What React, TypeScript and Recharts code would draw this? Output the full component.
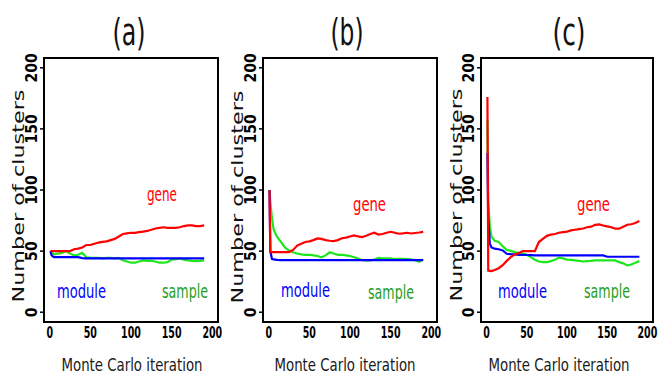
import { LineChart, Line, XAxis, YAxis, ReferenceArea, Customized } from 'recharts';

const iterations = [1, 2, 4, 6, 10, 15, 20, 25, 30, 35, 40, 45, 50, 55, 60, 65, 70, 75, 80, 85, 90, 95, 100, 105, 110, 115, 120, 125, 130, 135, 140, 145, 150, 155, 160, 165, 170, 175, 180, 185, 190];

// (a)
const geneA = [50, 50, 50, 50, 50, 50, 50, 50, 51.5, 52, 53, 55, 55, 56, 57, 57.5, 58, 59, 60, 62, 64, 64.5, 65, 65, 65.5, 66, 66.5, 67.5, 68.5, 69, 69.5, 69, 69, 69, 69.5, 70.5, 71, 71, 70.5, 70.5, 71];
const moduleA = [50, 47, 45.5, 45, 45, 45, 45, 45, 45, 45, 44.3, 44, 44, 44, 44, 44, 44, 44, 44, 44, 44, 44, 44, 44, 44, 44, 44, 44, 44, 44, 44, 44, 44, 44, 44, 44, 44, 44, 44, 44, 44];
const sampleA = [50, 49, 48, 47.3, 48, 48.6, 50, 48, 46.5, 47, 48.5, 45, 44.5, 44.5, 44.5, 44, 44.5, 44.5, 44, 44.5, 42.5, 41.5, 40.5, 40.5, 41.5, 42.4, 42, 42, 41.5, 40.5, 40.5, 41, 43, 43.5, 44, 43, 42.4, 42, 41.8, 42, 42.4];

// (b)
const geneB = [100, 49.2, 49.2, 49.2, 49.2, 49.2, 49.2, 49.2, 51, 54.5, 56, 57.5, 58, 59, 60.4, 60, 59, 58.5, 58.2, 59, 60.5, 61, 62, 62.9, 62, 61.5, 62.5, 64, 65, 63.5, 64, 65, 65.8, 65, 64.2, 64.5, 65, 64.4, 64.8, 65.2, 65.8];
const moduleB = [100, 50, 43.7, 43.2, 42.8, 42.6, 42.6, 42.6, 42.6, 42.6, 42.6, 42.6, 42.6, 42.6, 42.6, 42.6, 42.6, 42.6, 42.6, 42.6, 42.6, 42.6, 42.6, 42.6, 42.6, 42.6, 42.6, 42.6, 42.6, 42.6, 42.6, 42.6, 42.6, 42.6, 42.6, 42.6, 42.6, 42.6, 42.6, 42.6, 42.6];
const sampleB = [100, 90, 77, 68, 62, 57.5, 53, 50.5, 49, 48, 47.3, 47, 47, 46.5, 46, 45, 46.5, 49, 48, 47, 47, 46.5, 46, 45, 44, 42.6, 42.4, 42.4, 43, 44.5, 44, 44, 44, 43.5, 43.7, 43.7, 43.5, 43.2, 42.5, 41.2, 43.2];

// (c)
const geneC = [176, 34, 33.8, 33.6, 34.5, 36, 38.5, 42, 45, 47.3, 48.5, 50, 50, 50, 50, 57.4, 60, 62.5, 63.5, 64, 65, 65.6, 66, 67, 67.5, 68, 68.5, 69.5, 70, 71.5, 71.9, 71, 70.2, 69.5, 68.4, 68.4, 70, 71.6, 72, 73, 74.6];
const moduleC = [130, 78, 56, 53, 52, 51.5, 50.6, 47.8, 47.5, 47.3, 47, 47, 46.8, 46.7, 46.5, 46.5, 46.5, 46.5, 46.5, 46.5, 46.5, 46.5, 46.5, 46.5, 46.5, 46.5, 46.5, 46.5, 46.5, 46.5, 46.5, 46.5, 45.4, 45.4, 45.4, 45.4, 45.4, 45.4, 45.4, 45.4, 45.4];
const sampleC = [157, 90, 70, 62, 58.5, 57.4, 54, 51, 50.2, 49.2, 48.5, 48, 47, 45.1, 43, 41.5, 41, 41, 41.8, 43, 44.6, 44, 43, 42.8, 42.4, 42, 41.5, 41.8, 42, 42.4, 42.4, 42.4, 42.4, 42.4, 42.4, 41, 40, 38.3, 39, 40.5, 41.8];

const xTicks = [0, 50, 100, 150, 200];
const yTicks = [0, 50, 100, 150, 200];

const RED = '#ff0000';
const BLUE = '#0000ff';
const GREEN = '#1ee61e';
const GREEN_TEXT = '#1f9e1f';

const TOP = 58;
const BOTTOM = 322;
const H = 376;
const PAD_R = 14;

// layout of each panel (page coords)
const panels = [
  { title: '(a)', gene: geneA, module: moduleA, sample: sampleA, left: 0, boxL: 44, boxR: 218, titleX: 129, xlabX: 132, ylabX: 24, ylabY: 196, tickX: 37, geneX: 147, geneY: 201, geneW: 30, modX: 57, modY: 298, sampX: 162, sampY: 298 },
  { title: '(b)', gene: geneB, module: moduleB, sample: sampleB, left: 219, boxL: 263, boxR: 437, titleX: 347, xlabX: 345, ylabX: 243, ylabY: 197, tickX: 256, geneX: 353, geneY: 211, geneW: 33, modX: 281, modY: 297, sampX: 368, sampY: 299 },
  { title: '(c)', gene: geneC, module: moduleC, sample: sampleC, left: 437, boxL: 481, boxR: 653, titleX: 569, xlabX: 559, ylabX: 462, ylabY: 195, tickX: 474, geneX: 577, geneY: 211, geneW: 33, modX: 498, modY: 298, sampX: 584, sampY: 298 },
];

const narrow = '"Liberation Sans Narrow", "DejaVu Sans Condensed", sans-serif';

function Panel({ p }: { p: (typeof panels)[number] }) {
  const data = iterations.map((it, i) => ({ it, gene: p.gene[i], module: p.module[i], sample: p.sample[i] }));
  const w = p.boxR - p.left + PAD_R;
  const o = p.left;

  const yTick = (props: any) => {
    const x = p.tickX - o;
    const s = String(props.payload.value);
    return (
      <text x={x} y={props.y} transform={`rotate(-90 ${x} ${props.y})`} textAnchor="middle"
        fontFamily="DejaVu Sans" fontWeight="bold" fontSize={15} fill="#000"
        textLength={s.length * 9.8} lengthAdjust="spacingAndGlyphs">{s}</text>
    );
  };
  const xTick = (props: any) => {
    const s = String(props.payload.value);
    return (
      <text x={props.x} y={338} textAnchor="middle" fontFamily={narrow} fontWeight="bold"
        fontSize={15} fill="#000" textLength={s.length * 6.6} lengthAdjust="spacingAndGlyphs">{s}</text>
    );
  };

  return (
    <div style={{ position: 'absolute', left: p.left, top: 0 }}>
      <LineChart width={w} height={H} data={data} margin={{ top: TOP, right: PAD_R, left: 0, bottom: 0 }}>
        <XAxis dataKey="it" type="number" domain={[-7, 207]} ticks={xTicks} allowDataOverflow
          axisLine={false} tickLine={false} height={H - BOTTOM} tick={xTick} interval={0} />
        <YAxis type="number" domain={[-8, 208]} ticks={yTicks} allowDataOverflow axisLine={false}
          tickLine={{ stroke: '#000', strokeWidth: 1.5 }} tickSize={4} width={p.boxL - p.left} tick={yTick} interval={0} />
        <ReferenceArea x1={-7} x2={207} y1={-8} y2={208} fill="none" stroke="#000" strokeWidth={2} ifOverflow="visible" />
        <Line dataKey="sample" stroke={GREEN} strokeWidth={2.2} dot={false} type="linear" isAnimationActive={false} />
        <Line dataKey="module" stroke={BLUE} strokeWidth={2.2} dot={false} type="linear" isAnimationActive={false} />
        <Line dataKey="gene" stroke={RED} strokeWidth={2.2} dot={false} type="linear" isAnimationActive={false} />
        <Customized component={() => (
          <g>
            <text x={p.titleX - o} y={45} textAnchor="middle" fontFamily={narrow} fontSize={38}
              fill="#111" textLength={33} lengthAdjust="spacingAndGlyphs">{p.title}</text>
            <text x={p.xlabX - o} y={371} textAnchor="middle" fontFamily={narrow} fontSize={17}
              fill="#1a1a1a" textLength={141} lengthAdjust="spacingAndGlyphs">Monte Carlo iteration</text>
            <text x={p.ylabX - o} y={p.ylabY} transform={`rotate(-90 ${p.ylabX - o} ${p.ylabY})`}
              textAnchor="middle" fontFamily="DejaVu Sans" fontSize={15} fill="#111"
              textLength={213} lengthAdjust="spacingAndGlyphs">Number of clusters</text>
            <text x={p.geneX - o} y={p.geneY} fontFamily={narrow} fontSize={20} fill={RED}
              textLength={p.geneW} lengthAdjust="spacingAndGlyphs">gene</text>
            <text x={p.modX - o} y={p.modY} fontFamily={narrow} fontSize={20} fill={BLUE}
              textLength={49} lengthAdjust="spacingAndGlyphs">module</text>
            <text x={p.sampX - o} y={p.sampY} fontFamily={narrow} fontSize={20} fill={GREEN_TEXT}
              textLength={46} lengthAdjust="spacingAndGlyphs">sample</text>
          </g>
        )} />
      </LineChart>
    </div>
  );
}

export default function App() {
  return (
    <div style={{ position: 'absolute', left: 0, top: 0, width: 658, height: H, background: '#fff', overflow: 'hidden' }}>
      {panels.map((p) => (
        <Panel key={p.title} p={p} />
      ))}
    </div>
  );
}
